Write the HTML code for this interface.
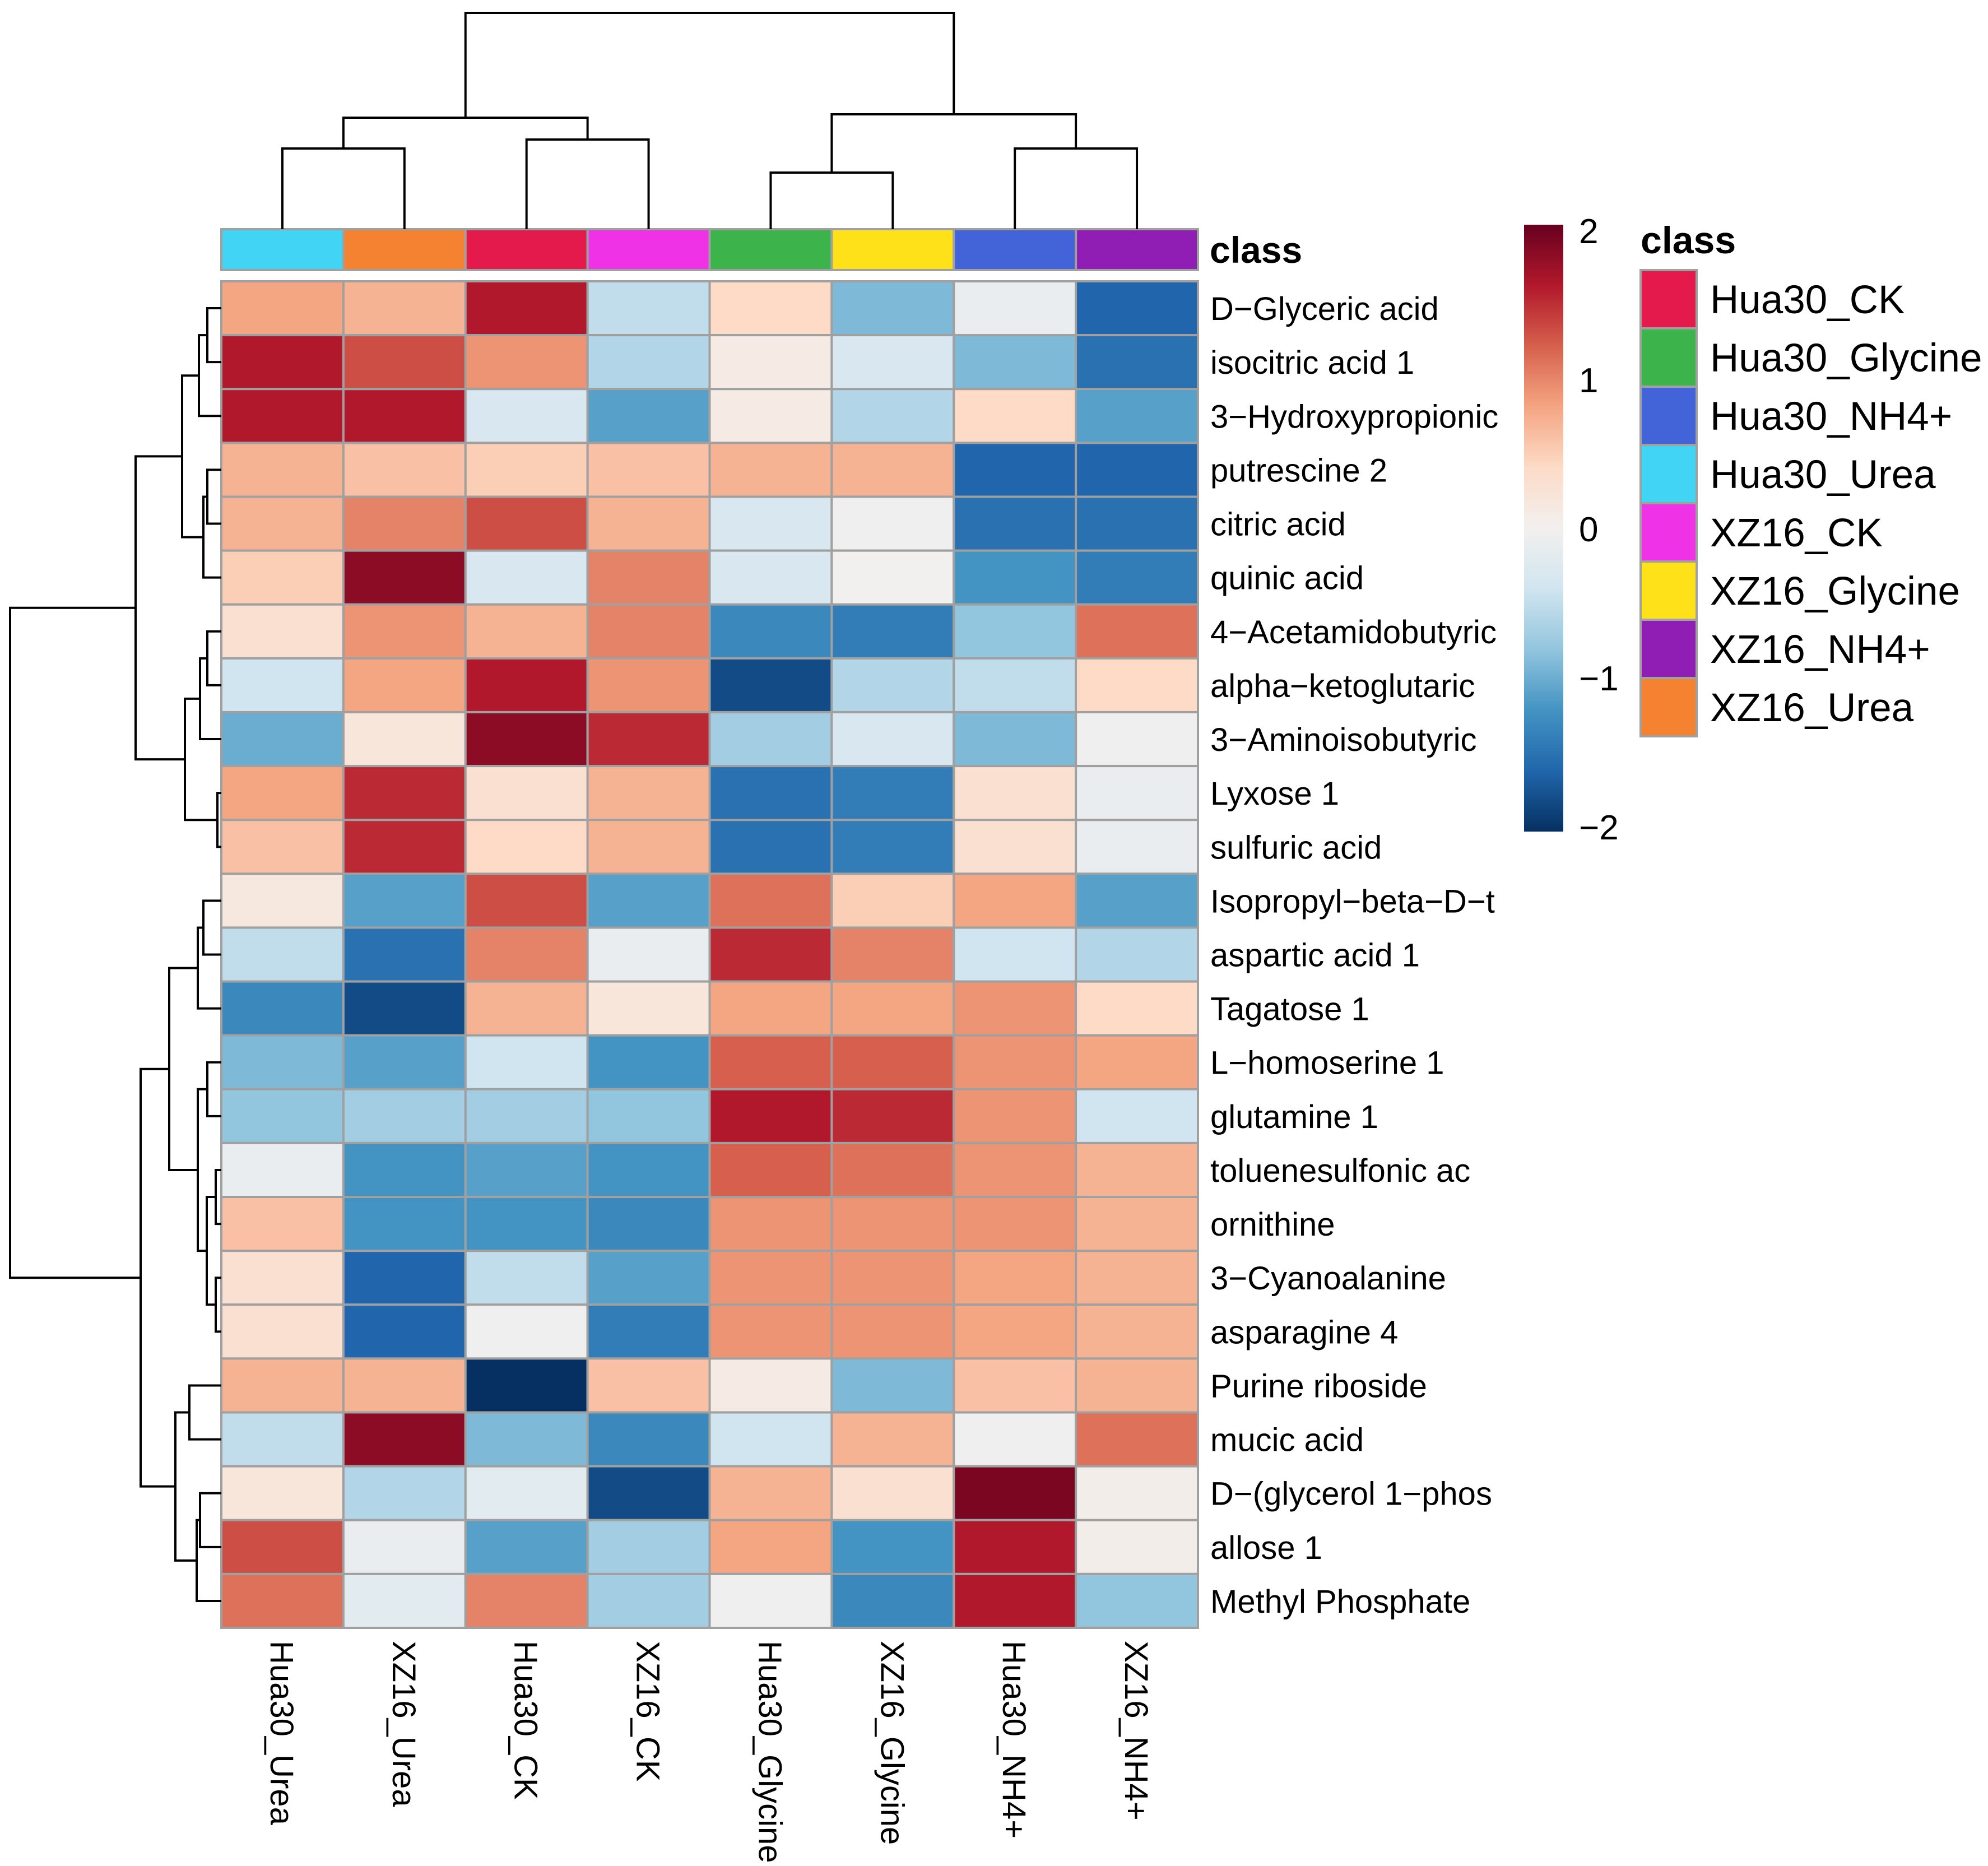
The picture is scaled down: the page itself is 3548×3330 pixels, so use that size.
<!DOCTYPE html>
<html><head><meta charset="utf-8"><style>
html,body{margin:0;padding:0;background:#fff;}
svg{display:block;font-family:"Liberation Sans",Arial,sans-serif;}
</style></head><body>
<svg id="chart" xmlns="http://www.w3.org/2000/svg" width="3548" height="3330" viewBox="0 0 3548 3330">
<defs><linearGradient id="cbar" x1="0" y1="1" x2="0" y2="0">
<stop offset="0" stop-color="#053061"/><stop offset="0.1" stop-color="#2166AC"/><stop offset="0.2" stop-color="#4393C3"/><stop offset="0.3" stop-color="#92C5DE"/><stop offset="0.4" stop-color="#D1E5F0"/><stop offset="0.5" stop-color="#F2F0EE"/><stop offset="0.6" stop-color="#FDDBC7"/><stop offset="0.7" stop-color="#F4A582"/><stop offset="0.8" stop-color="#D6604D"/><stop offset="0.9" stop-color="#B2182B"/><stop offset="1" stop-color="#67001F"/>
</linearGradient></defs>
<g id="cells"></g>
<g id="annot"></g>
<g id="dendro" stroke="#000" stroke-width="4" fill="none"></g>
<g id="labels"></g>
<text x="2159" y="469" font-size="66" font-weight="bold">class</text>
<g>
<rect x="2720" y="401" width="70" height="1083" fill="url(#cbar)"/>
<text x="2818" y="434" font-size="62">2</text>
<text x="2818" y="700" font-size="62">1</text>
<text x="2818" y="966" font-size="62">0</text>
<text x="2818" y="1232" font-size="62">−1</text>
<text x="2818" y="1498" font-size="62">−2</text>
</g>
<g id="legend">
<text x="2928" y="452" font-size="68" font-weight="bold">class</text>
</g>
</svg>
<script>
const rows=["D\u2212Glyceric acid","isocitric acid 1","3\u2212Hydroxypropionic","putrescine 2","citric acid","quinic acid","4\u2212Acetamidobutyric","alpha\u2212ketoglutaric","3\u2212Aminoisobutyric","Lyxose 1","sulfuric acid","Isopropyl\u2212beta\u2212D\u2212t","aspartic acid 1","Tagatose 1","L\u2212homoserine 1","glutamine 1","toluenesulfonic ac","ornithine","3\u2212Cyanoalanine","asparagine 4","Purine riboside","mucic acid","D\u2212(glycerol 1\u2212phos","allose 1","Methyl Phosphate"];
const cols=["Hua30_Urea","XZ16_Urea","Hua30_CK","XZ16_CK","Hua30_Glycine","XZ16_Glycine","Hua30_NH4+","XZ16_NH4+"];
const colClass=["Hua30_Urea","XZ16_Urea","Hua30_CK","XZ16_CK","Hua30_Glycine","XZ16_Glycine","Hua30_NH4+","XZ16_NH4+"];
const classNames=["Hua30_CK","Hua30_Glycine","Hua30_NH4+","Hua30_Urea","XZ16_CK","XZ16_Glycine","XZ16_NH4+","XZ16_Urea"];
const classColors=["#E41A4C","#3CB44B","#4363D8","#42D4F4","#F032E6","#FFE119","#911EB4","#F58231"];
const values=[
[0.8,0.7,1.6,-0.5,0.4,-0.9,-0.1,-1.6],
[1.6,1.3,0.9,-0.6,0.1,-0.3,-0.9,-1.5],
[1.6,1.6,-0.3,-1.1,0.1,-0.6,0.4,-1.1],
[0.7,0.6,0.5,0.6,0.7,0.7,-1.6,-1.6],
[0.7,1.0,1.3,0.7,-0.3,-0.05,-1.5,-1.5],
[0.5,1.8,-0.3,1.0,-0.3,0.0,-1.2,-1.4],
[0.3,0.9,0.7,1.0,-1.3,-1.4,-0.8,1.1],
[-0.4,0.8,1.6,0.9,-1.8,-0.6,-0.5,0.4],
[-1.0,0.2,1.8,1.5,-0.7,-0.3,-0.9,-0.05],
[0.8,1.5,0.3,0.7,-1.5,-1.4,0.3,-0.1],
[0.6,1.5,0.4,0.7,-1.5,-1.4,0.3,-0.1],
[0.15,-1.1,1.3,-1.1,1.1,0.5,0.8,-1.1],
[-0.5,-1.5,1.0,-0.1,1.5,1.0,-0.4,-0.6],
[-1.3,-1.8,0.7,0.2,0.8,0.8,0.9,0.4],
[-0.9,-1.1,-0.4,-1.2,1.2,1.2,0.9,0.8],
[-0.8,-0.7,-0.7,-0.8,1.6,1.5,0.9,-0.4],
[-0.1,-1.2,-1.1,-1.2,1.2,1.1,0.9,0.7],
[0.6,-1.2,-1.2,-1.3,0.9,0.9,0.9,0.7],
[0.3,-1.6,-0.5,-1.1,0.9,0.9,0.8,0.7],
[0.3,-1.6,-0.05,-1.4,0.9,0.9,0.8,0.7],
[0.7,0.7,-2.1,0.6,0.1,-0.9,0.6,0.7],
[-0.5,1.8,-0.9,-1.3,-0.4,0.7,-0.05,1.1],
[0.2,-0.6,-0.2,-1.8,0.7,0.3,1.9,0.05],
[1.3,-0.1,-1.1,-0.7,0.8,-1.2,1.6,0.05],
[1.1,-0.2,1.0,-0.7,-0.05,-1.3,1.6,-0.8]];
const rowMerges=[[0,1,370],["m0",2,355],[3,4,370],["m2",5,363],["m1","m3",325],[6,7,370],["m5",8,357],[9,10,388],["m6","m7",330],["m4","m8",242],
[11,12,363],["m10",13,353],[14,15,370],[16,17,385],[18,19,385],["m13","m14",369],["m12","m15",353],["m11","m16",302],[20,21,338],[22,23,357],["m19",24,351],["m18","m20",313],["m17","m21",251],["m9","m22",18]];
const colMerges=[[0,1,265],[2,3,249],["m0","m1",210],[4,5,308],[6,7,265],["m3","m4",204],["m2","m5",23]];

const L=395,R=2138,T=502,B=2905,NS="http://www.w3.org/2000/svg";
const cw=(R-L)/cols.length, rh=(B-T)/rows.length;
const xc=i=>L+i*cw, yr=j=>T+j*rh;
const stops=["#053061","#2166AC","#4393C3","#92C5DE","#D1E5F0","#F2F0EE","#FDDBC7","#F4A582","#D6604D","#B2182B","#67001F"];
function hex(h){return [1,3,5].map(i=>parseInt(h.substr(i,2),16));}
function color(v){const M=2.0;let t=(Math.max(-M,Math.min(M,v))+M)/(2*M)*(stops.length-1);let i=Math.min(Math.floor(t),stops.length-2),f=t-i;const a=hex(stops[i]),b=hex(stops[i+1]);return "rgb("+a.map((c,k)=>Math.round(c+(b[k]-c)*f)).join(",")+")";}
function el(tag,attrs,parent){const e=document.createElementNS(NS,tag);for(const k in attrs)e.setAttribute(k,attrs[k]);parent.appendChild(e);return e;}
const cells=document.getElementById('cells');
values.forEach((row,j)=>row.forEach((v,i)=>{
 const r=el('rect',{x:xc(i),y:yr(j),width:cw,height:rh,fill:color(v),stroke:'#A0A0A0','stroke-width':4},cells);
 
 
}));
const annot=document.getElementById('annot');
colClass.forEach((c,i)=>{
 const r=el('rect',{x:xc(i),y:409,width:cw,height:73,fill:classColors[classNames.indexOf(c)],stroke:'#A0A0A0','stroke-width':4},annot);
 
 
});
const labels=document.getElementById('labels');
rows.forEach((n,j)=>{
 const t=el('text',{x:2160,y:yr(j)+rh/2+21,'font-size':58},labels);t.textContent=n;
 
 
});
cols.forEach((n,i)=>{
 const x=xc(i)+cw/2-21,y=2928;
 const t=el('text',{x:x,y:y,'font-size':58,transform:'rotate(90 '+x+' '+y+')'},labels);t.textContent=n;
 
 
});
const dendro=document.getElementById('dendro');
function tree(merges,leafPos,leafH,horizontal){
 const pos=[],h=[];
 const get=k=>typeof k==='number'?[leafPos(k),leafH]:[pos[+k.slice(1)],h[+k.slice(1)]];
 merges.forEach((m,k)=>{
  const [pa,ha]=get(m[0]),[pb,hb]=get(m[1]),hh=m[2];
  let d;
  if(horizontal) d=`M${ha},${pa}H${hh}V${pb}H${hb}`;
  else d=`M${pa},${ha}V${hh}H${pb}V${hb}`;
  const p=el('path',{d:d},dendro);
  
  
  pos[k]=(pa+pb)/2;h[k]=hh;
 });
}
tree(rowMerges,j=>yr(j)+rh/2,L,true);
tree(colMerges,i=>xc(i)+cw/2,409,false);
const legend=document.getElementById('legend');
classNames.forEach((c,k)=>{
 const y=482+k*104;
 const r=el('rect',{x:2928,y:y,width:100,height:104,fill:classColors[k],stroke:'#A0A0A0','stroke-width':4},legend);
 
 
 const t=el('text',{x:3052,y:y+77,'font-size':71},legend);t.textContent=c;
 
 
});
</script>
</body></html>
